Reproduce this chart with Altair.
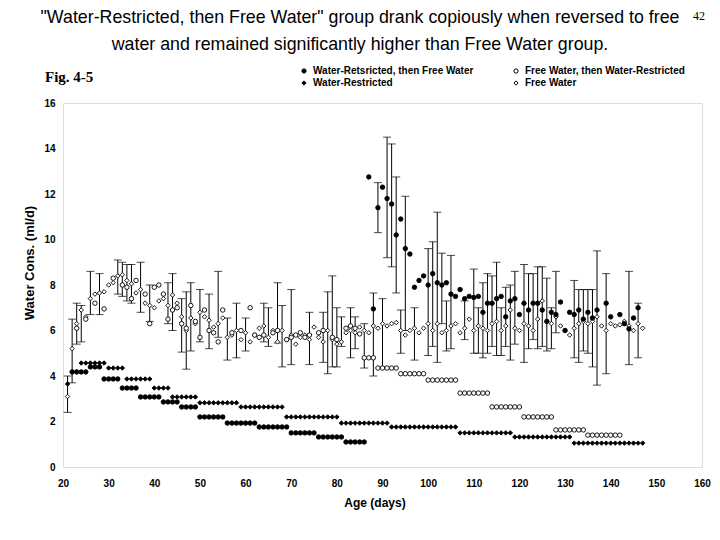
import altair as alt
import pandas as pd

# ---------------- series names ----------------
S_WRF = "Water-Retsricted, then Free Water"
S_FWR = "Free Water, then Water-Restricted"
S_WR = "Water-Restricted"
S_FW = "Free Water"
# legend fills column by column: first column WRF / WR, second column FWR / FW
series_order = [S_WRF, S_WR, S_FWR, S_FW]
series_fill = ["black", "black", "white", "white"]
series_shape = ["circle", "diamond", "circle", "diamond"]
series_stroke = ["black", "black", "black", "black"]

x_ticks = [20, 30, 40, 50, 60, 70, 80, 90, 100, 110, 120, 130, 140, 150, 160]
y_ticks = [0, 1, 2, 3, 4, 5, 6, 7, 8, 9, 10, 11, 12, 13, 14, 15, 16]

# ---------------- Water-Restricted (whole study) ----------------
wr_days = list(range(21, 148))
wr_vals = [3.65, 4.18, 4.18,
           4.57, 4.57, 4.57, 4.57, 4.57, 4.57,
           4.35, 4.35, 4.35, 4.35,
           3.87, 3.87, 3.87, 3.87, 3.87, 3.87,
           3.47, 3.47, 3.47, 3.47,
           3.08, 3.08, 3.08, 3.08, 3.08, 3.08,
           2.82, 2.82, 2.82, 2.82, 2.82, 2.82, 2.82, 2.82, 2.82,
           2.64, 2.64, 2.64, 2.64, 2.64, 2.64, 2.64, 2.64, 2.64, 2.64,
           2.2, 2.2, 2.2, 2.2, 2.2, 2.2, 2.2, 2.2, 2.2, 2.2, 2.2, 2.2,
           1.93, 1.93, 1.93, 1.93, 1.93, 1.93, 1.93, 1.93, 1.93, 1.93, 1.93,
           1.76, 1.76, 1.76, 1.76, 1.76, 1.76, 1.76, 1.76, 1.76, 1.76, 1.76, 1.76, 1.76, 1.76, 1.76,
           1.5, 1.5, 1.5, 1.5, 1.5, 1.5, 1.5, 1.5, 1.5, 1.5, 1.5, 1.5,
           1.32, 1.32, 1.32, 1.32, 1.32, 1.32, 1.32, 1.32, 1.32, 1.32, 1.32, 1.32, 1.32,
           1.05, 1.05, 1.05, 1.05, 1.05, 1.05, 1.05, 1.05, 1.05, 1.05, 1.05, 1.05, 1.05, 1.05, 1.05, 1.05]

# ---------------- Water-Restricted, then Free Water ----------------
wrf_pre_days = list(range(22, 87))
wrf_pre_vals = [4.18, 4.18, 4.18, 4.18,
                4.4, 4.4, 4.4,
                3.87, 3.87, 3.87, 3.87,
                3.47, 3.47, 3.47, 3.47,
                3.08, 3.08, 3.08, 3.08, 3.08,
                2.86, 2.86, 2.86, 2.86,
                2.64, 2.64, 2.64, 2.64,
                2.2, 2.2, 2.2, 2.2, 2.2, 2.2,
                1.93, 1.93, 1.93, 1.93, 1.93, 1.93, 1.93,
                1.76, 1.76, 1.76, 1.76, 1.76, 1.76, 1.76,
                1.5, 1.5, 1.5, 1.5, 1.5, 1.5,
                1.32, 1.32, 1.32, 1.32, 1.32, 1.32,
                1.1, 1.1, 1.1, 1.1, 1.1]
wrf_post_days = [87, 88, 89, 90, 91, 92, 93, 94, 95, 96,
                 97, 98, 99, 100, 101, 102, 103, 104, 105, 106,
                 107, 108, 109, 110, 111, 112, 113, 114, 115, 116,
                 117, 118, 119, 120, 121, 122, 123, 124, 125, 126,
                 127, 128, 129, 130, 131, 132, 133, 134, 135, 136,
                 137, 139, 140, 142, 143, 144, 145, 146]
wrf_post_vals = [12.75, 6.95, 11.4, 12.3, 11.8, 11.56, 10.2, 10.9, 9.6, 9.36,
                 7.9, 8.2, 8.4, 8.0, 8.5, 8.1, 8.0, 8.1, 7.6, 7.5,
                 7.8, 7.4, 7.5, 7.45, 7.5, 6.8, 7.2, 7.2, 7.4, 7.5,
                 6.6, 7.3, 7.4, 6.7, 7.2, 6.9, 7.2, 7.2, 6.9, 6.4,
                 6.8, 6.7, 7.25, 6.0, 6.8, 6.7, 6.9, 6.5, 6.8, 6.55,
                 6.9, 7.2, 6.6, 6.7, 6.3, 6.07, 6.55, 7.0]

# ---------------- Free Water, then Water-Restricted ----------------
fwr_pre_days = [23, 25, 27, 29, 31, 33, 34, 35, 36, 38,
                39, 40, 41, 42, 43, 44, 45, 46, 47, 48,
                49, 50, 51, 52, 53, 54, 55, 57, 59, 61,
                62, 63, 64, 66, 67, 69, 70, 71, 72, 73,
                74, 76, 77, 79, 80, 82, 83, 84, 85]
fwr_pre_vals = [6.1, 6.5, 7.2, 6.95, 8.3, 8.0, 7.9, 7.4, 8.2, 7.6,
                6.3, 7.9, 8.0, 7.6, 6.5, 6.9, 7.0, 6.3, 6.1, 7.1,
                6.4, 5.7, 6.9, 6.0, 5.9, 5.5, 6.9, 5.9, 6.0, 7.0,
                5.8, 5.7, 5.8, 5.9, 6.0, 5.6, 5.7, 5.8, 5.9, 5.7,
                5.8, 5.9, 6.0, 5.7, 5.6, 6.1, 6.2, 6.1, 5.85]
fwr_post_days = list(range(86, 143))
fwr_post_vals = [4.8, 4.8, 4.8,
                 4.35, 4.35, 4.35, 4.35, 4.35,
                 4.1, 4.1, 4.1, 4.1, 4.1, 4.1,
                 3.82, 3.82, 3.82, 3.82, 3.82, 3.82, 3.82,
                 3.25, 3.25, 3.25, 3.25, 3.25, 3.25, 3.25,
                 2.64, 2.64, 2.64, 2.64, 2.64, 2.64, 2.64,
                 2.2, 2.2, 2.2, 2.2, 2.2, 2.2, 2.2,
                 1.63, 1.63, 1.63, 1.63, 1.63, 1.63, 1.63,
                 1.4, 1.4, 1.4, 1.4, 1.4, 1.4, 1.4, 1.4]

# ---------------- Free Water ----------------
fw_days = list(range(21, 148))
fw_vals = [3.1, 5.2, 6.3, 6.9, 6.6, 7.4, 7.6, 7.65, 7.7, 8.0,
           8.1, 8.4, 8.45, 8.2, 8.05, 7.65, 7.8, 7.2, 7.1, 7.0,
           7.3, 7.4, 7.1, 7.56, 7.2, 6.6, 6.0, 6.55, 6.3, 6.8,
           6.6, 6.45, 6.15, 6.3, 6.55, 5.7, 5.8, 6.0, 5.6, 5.9,
           5.5, 5.8, 6.1, 6.2, 5.7, 6.0, 5.5, 6.0, 5.6, 5.8,
           5.4, 5.7, 5.8, 5.6, 6.15, 5.7, 5.5, 6.0, 5.6, 5.4,
           5.5, 5.9, 6.0, 5.9, 6.15,
           6.0, 5.9, 6.2, 6.1, 6.3, 6.2, 6.3, 6.35, 6.0, 5.8,
           6.0, 6.1, 5.9, 6.1, 6.3, 6.0, 6.3, 5.9, 6.0, 6.2,
           6.3, 5.9, 6.1, 6.5, 6.0, 6.2, 6.1, 6.0, 6.3, 6.4,
           6.0, 6.2, 6.9, 6.1, 6.0, 6.3, 6.2, 6.0, 6.5, 7.3,
           6.4, 6.3, 6.6, 6.2, 6.0, 5.8, 6.1, 6.3, 6.4, 6.3,
           6.4, 6.6, 6.2, 6.0, 6.3, 6.2, 6.25, 6.4, 6.2, 6.0,
           6.3, 6.1]

# ---------------- error bars (low / high ends) ----------------
eb_days = [21, 22, 23, 24, 26, 28, 32, 33, 34, 35, 37, 39, 43, 44, 46, 47, 48,
           50, 52, 54, 56, 58, 60, 64, 65, 67, 68, 70, 74, 77, 78, 79, 80, 81,
           83, 84, 86, 88, 90, 94, 97, 104, 108, 111, 116, 127,
           89, 91, 92, 93, 95, 100, 101, 102, 103, 105, 110, 112, 113, 114,
           115, 117, 118, 119, 121, 122, 123, 124, 125, 126, 128, 132, 133,
           134, 135, 136, 137, 139, 144, 146]
eb_lo = [2.4, 3.7, 5.4, 5.5, 6.7, 6.7, 7.6, 7.5, 7.3, 7.2, 6.8, 6.4, 6.3, 6.0, 5.05, 4.3, 5.1,
         5.5, 5.2, 5.7, 4.7, 4.8, 5.1, 5.5, 5.3, 5.45, 4.4, 4.5, 4.5, 4.6, 4.1, 4.4, 4.4, 5.3,
         4.8, 5.2, 4.35, 4.0, 4.4, 5.0, 4.7, 5.1, 5.6, 5.0, 4.9, 5.2,
         10.3, 9.2, 8.8, 7.65, 6.0, 4.9, 5.3, 4.6, 6.3, 5.2, 5.0, 4.8, 5.0, 5.3,
         4.9, 5.3, 4.7, 5.4, 4.6, 5.2, 5.6, 5.2, 5.3, 5.1, 5.9, 4.8, 4.6,
         5.1, 5.0, 4.4, 3.6, 4.1, 4.5, 4.8]
eb_hi = [4.0, 6.5, 7.2, 7.1, 8.6, 8.5, 9.1, 9.0, 8.9, 8.9, 9.0, 8.0, 8.1, 8.5, 7.4, 7.7, 8.1,
         7.8, 7.6, 8.6, 6.55, 7.2, 6.55, 7.2, 7.0, 8.1, 7.1, 7.8, 6.8, 6.8, 7.7, 8.4, 7.0, 6.6,
         7.0, 6.6, 6.3, 7.65, 7.4, 6.9, 7.0, 7.3, 7.3, 7.0, 7.0, 7.0,
         12.5, 14.5, 14.2, 12.75, 11.9, 9.6, 9.9, 11.2, 9.4, 9.3, 8.7, 8.1, 8.5, 8.4,
         9.0, 7.9, 8.0, 8.6, 8.9, 8.5, 8.5, 8.8, 8.8, 8.3, 8.6, 8.2, 7.8,
         7.8, 7.8, 7.8, 9.5, 8.5, 8.6, 7.2]

# ---------------- tables ----------------
def frame(days, vals, name):
    return pd.DataFrame({"day": days, "val": vals, "series": name})

points = pd.concat([
    frame(fw_days, fw_vals, S_FW),
    frame(fwr_pre_days, fwr_pre_vals, S_FWR),
    frame(fwr_post_days, fwr_post_vals, S_FWR),
    frame(wr_days, wr_vals, S_WR),
    frame(wrf_pre_days, wrf_pre_vals, S_WRF),
    frame(wrf_post_days, wrf_post_vals, S_WRF),
], ignore_index=True)

bars = pd.DataFrame({"day": eb_days, "lo": eb_lo, "hi": eb_hi})
caps = pd.concat([
    pd.DataFrame({"day": eb_days, "val": eb_lo}),
    pd.DataFrame({"day": eb_days, "val": eb_hi}),
], ignore_index=True)

FONT = "Liberation Sans, Arial"

x_scale = alt.Scale(domain=[20, 160], nice=False, zero=False)
y_scale = alt.Scale(domain=[0, 16], nice=False)

x_enc = alt.X("day:Q", scale=x_scale,
              axis=alt.Axis(values=x_ticks, title=None, labelPadding=11, labelFlush=False,
                            labelFontSize=10, labelFontWeight="bold", labelFont=FONT,
                            domain=False, ticks=False, grid=False, labelColor="black"))
y_enc = alt.Y("val:Q", scale=y_scale,
              axis=alt.Axis(values=y_ticks, title=None, labelPadding=8, labelFlush=False,
                            labelFontSize=10, labelFontWeight="bold", labelFont=FONT,
                            domain=False, ticks=False, grid=False, labelColor="black"))

rules = alt.Chart(bars).mark_rule(color="black", strokeWidth=1).encode(
    x=alt.X("day:Q", scale=x_scale), y=alt.Y("lo:Q", scale=y_scale), y2="hi:Q")

cap_marks = alt.Chart(caps).mark_tick(color="black", orient="horizontal",
                                      size=8, thickness=1).encode(
    x=alt.X("day:Q", scale=x_scale), y=alt.Y("val:Q", scale=y_scale))

legend = alt.Legend(title=None, orient="none", legendX=236, legendY=-37, columns=2,
                    labelFont=FONT, labelFontSize=10, labelFontWeight="bold",
                    labelColor="black", labelLimit=400, symbolSize=18,
                    symbolStrokeWidth=1, rowPadding=2, columnPadding=37, padding=0,
                    labelOffset=4)

pts = alt.Chart(points).mark_point(strokeWidth=0.9, size=20, opacity=1).encode(
    x=x_enc, y=y_enc,
    shape=alt.Shape("series:N", scale=alt.Scale(domain=series_order, range=series_shape),
                    legend=legend),
    fill=alt.Fill("series:N", scale=alt.Scale(domain=series_order, range=series_fill),
                  legend=legend),
    stroke=alt.Stroke("series:N", scale=alt.Scale(domain=series_order, range=series_stroke),
                      legend=legend),
)

def label(text, x, y, size, weight="normal", font=FONT, angle=0, align="center"):
    return alt.Chart(pd.DataFrame({"t": [text]})).mark_text(
        fontSize=size, fontWeight=weight, font=font, angle=angle, align=align,
        baseline="middle", color="black").encode(
        text="t:N", x=alt.value(x), y=alt.value(y))

title1 = label('"Water-Restricted, then Free Water" group drank copiously when reversed to free',
               297, -85, 17.8)
title2 = label("water and remained significantly higher than Free Water group.", 297, -58, 17.8)
page_no = label("42", 636, -87, 12, font="Liberation Serif, Times New Roman")
fig = label("Fig. 4-5", -18, -26, 15, weight="bold", font="Liberation Serif, Times New Roman",
            align="left")
ytitle = label("Water Cons. (ml/d)", -33, 160, 13, weight="bold", angle=270)
xtitle = label("Age (days)", 312, 400, 12, weight="bold")

chart = alt.layer(rules, cap_marks, pts, title1, title2, page_no, fig, ytitle, xtitle).properties(
    width=639, height=364, autosize="none",
    padding={"left": 55, "top": 95, "right": 10, "bottom": 60},
).configure_view(stroke=None).configure(background="white")

chart.save("out.html", embed_options={"renderer": "svg", "actions": False})
